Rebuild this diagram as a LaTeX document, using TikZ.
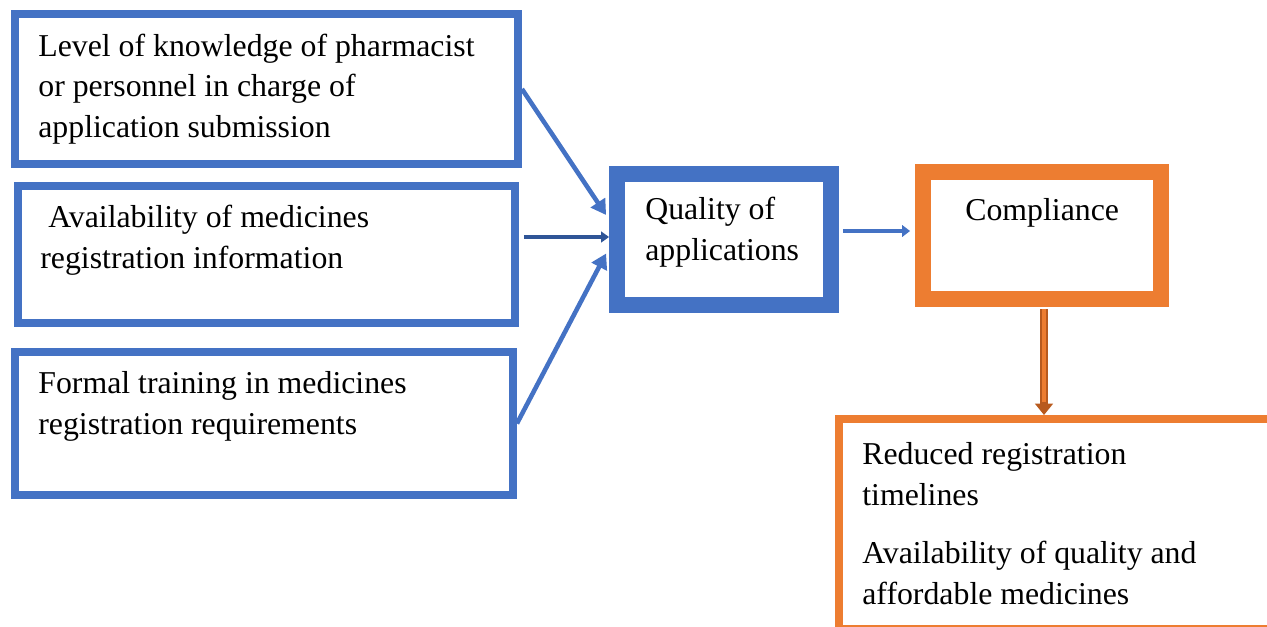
\documentclass[tikz,border=0pt]{standalone}
\usepackage{fontspec}
\setmainfont{Liberation Serif}
\usetikzlibrary{calc}
\usetikzlibrary{arrows.meta}

\begin{document}
\begin{tikzpicture}[x=0.02cm,y=-0.02cm,
  box/.style 2 args={draw,rectangle,inner sep=0pt,minimum width={#1*0.02cm},minimum height={#2*0.02cm}},
  boxtext/.style={anchor=base west,inner sep=0pt,align=left,font={\fontsize{18.1}{22.9}\selectfont}},
  ]

\definecolor{officeblue}{HTML}{4472C4}
\definecolor{officedarkblue}{HTML}{2F5597}
\definecolor{officeorange}{HTML}{ED7D31}
\definecolor{officedarkorange}{HTML}{B85A1E}
\colorlet{factorcolor}{officeblue}
\colorlet{outcomecolor}{officeorange}

\def\thinrule{4.5pt}
\def\thickrule{9pt}

\useasboundingbox (0,0) rectangle (1267,626);
\clip (0,0) rectangle (1267,626);

% DRAW THE FACTOR BOXES
\node[box={503}{150},line width=\thinrule,draw=factorcolor] (know) at (266.5,89) {};
\node[box={497}{137},line width=\thinrule,draw=factorcolor] (info) at (266.5,254.5) {};
\node[box={498}{143},line width=\thinrule,draw=factorcolor] (train) at (264,423.5) {};

% (base of a text node = baseline of its last line)
\node[boxtext] (knowText) at (38,137) {Level of knowledge of pharmacist\\or personnel in charge of\\application submission};
\node[boxtext] (infoText) at (40,268) {\ Availability of medicines\\registration information};
\node[boxtext] (trainText) at (38,434) {Formal training in medicines\\registration requirements};

% DRAW THE QUALITY BOX
\node[box={214}{131},line width=\thickrule,draw=factorcolor] (qual) at (724,239.5) {};
\node[boxtext] (qualText) at (645,260) {Quality of\\applications};

% DRAW THE COMPLIANCE BOX
\node[box={238}{127},line width=\thickrule,draw=outcomecolor] (comp) at (1042,235.5) {};
\node[boxtext] (compText) at (965,220) {Compliance};

% DRAW THE RESULT BOX (runs off the page)
\node[box={451}{210},line width=\thinrule,draw=outcomecolor] (res) at (1064.5,524) {};
\node[boxtext] (resText) at (862,604) {Reduced registration\\timelines\\[10.5pt]Availability of quality and\\affordable medicines};

% DRAW THE ARROWS
\draw[factorcolor,line width=2.6pt,-{Triangle[length=8.5pt,width=9.5pt]}] (know.east) -- ([shift={(-3,-24.5)}]qual.west);
\draw[factorcolor,line width=2.6pt,-{Triangle[length=8.5pt,width=9.5pt]}] (train.east) -- ([shift={(-3,14)}]qual.west);
\draw[officedarkblue,line width=2.8pt,-{Triangle[length=4.5pt,width=6pt]}] ([shift={(5,-17.5)}]info.east) -- ([shift={(0,-2.5)}]qual.west);
\draw[factorcolor,line width=2.8pt,-{Triangle[length=4.5pt,width=6.5pt]}] ([shift={(4,-8.5)}]qual.east) -- ([shift={(-5,-4.5)}]comp.west);

\coordinate (downStart) at ([shift={(2,2)}]comp.south);
\coordinate (downEnd) at (downStart |- res.north);
\draw[officedarkorange,line width=4.6pt,-{Triangle[length=6.5pt,width=10pt]}] (downStart) -- (downEnd);
\draw[outcomecolor,line width=2.4pt,shorten >=7.5pt] (downStart) -- (downEnd);

\end{tikzpicture}
\end{document}
